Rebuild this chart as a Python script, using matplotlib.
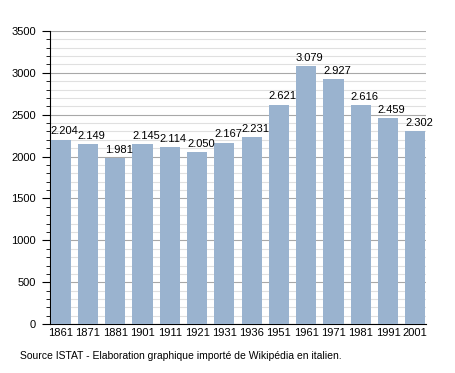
import matplotlib
matplotlib.use('Agg')
import matplotlib.pyplot as plt
from matplotlib.ticker import MultipleLocator

plt.rcParams['font.family'] = ['Liberation Sans', 'DejaVu Sans']

years = ['1861', '1871', '1881', '1901', '1911', '1921', '1931',
         '1936', '1951', '1961', '1971', '1981', '1991', '2001']
population = [2204, 2149, 1981, 2145, 2114, 2050, 2167,
              2231, 2621, 3079, 2927, 2616, 2459, 2302]
labels = ['2.204', '2.149', '1.981', '2.145', '2.114', '2.050', '2.167',
          '2.231', '2.621', '3.079', '2.927', '2.616', '2.459', '2.302']

fig = plt.figure(figsize=(4.55, 3.73), dpi=100)
ax = fig.add_axes([0.11, 0.131, 0.826, 0.786])

w = 0.74
x = list(range(len(years)))
ax.bar(x, population, width=w, color='#9ab3cf', zorder=3)

# value labels, left-aligned on the bar's left edge
for xi, v, lab in zip(x, population, labels):
    ax.text(xi - w / 2, v + 40, lab, ha='left', va='bottom', fontsize=8, zorder=4)

ax.set_ylim(0, 3500)
ax.set_xlim(-w / 2 - 0.02, len(years) - 1 + w / 2 + 0.02)
ax.yaxis.set_major_locator(MultipleLocator(500))
ax.yaxis.set_minor_locator(MultipleLocator(100))
ax.grid(True, axis='y', which='major', color='#a8a8a8', linewidth=0.8, zorder=1)
ax.grid(True, axis='y', which='minor', color='#e0e0e0', linewidth=0.8, zorder=1)

ax.set_xticks(x)
ax.set_xticklabels(years, fontsize=8)
ax.tick_params(axis='x', length=0, pad=3)
ax.tick_params(axis='y', which='major', length=6, labelsize=8, pad=4)
ax.tick_params(axis='y', which='minor', length=3)

for s in ['top', 'right']:
    ax.spines[s].set_visible(False)

fig.text(0.044, 0.045, 'Source ISTAT - Elaboration graphique importé de Wikipédia en italien.',
         fontsize=7.5, ha='left', va='center')

fig.savefig('out.png', dpi=100)
